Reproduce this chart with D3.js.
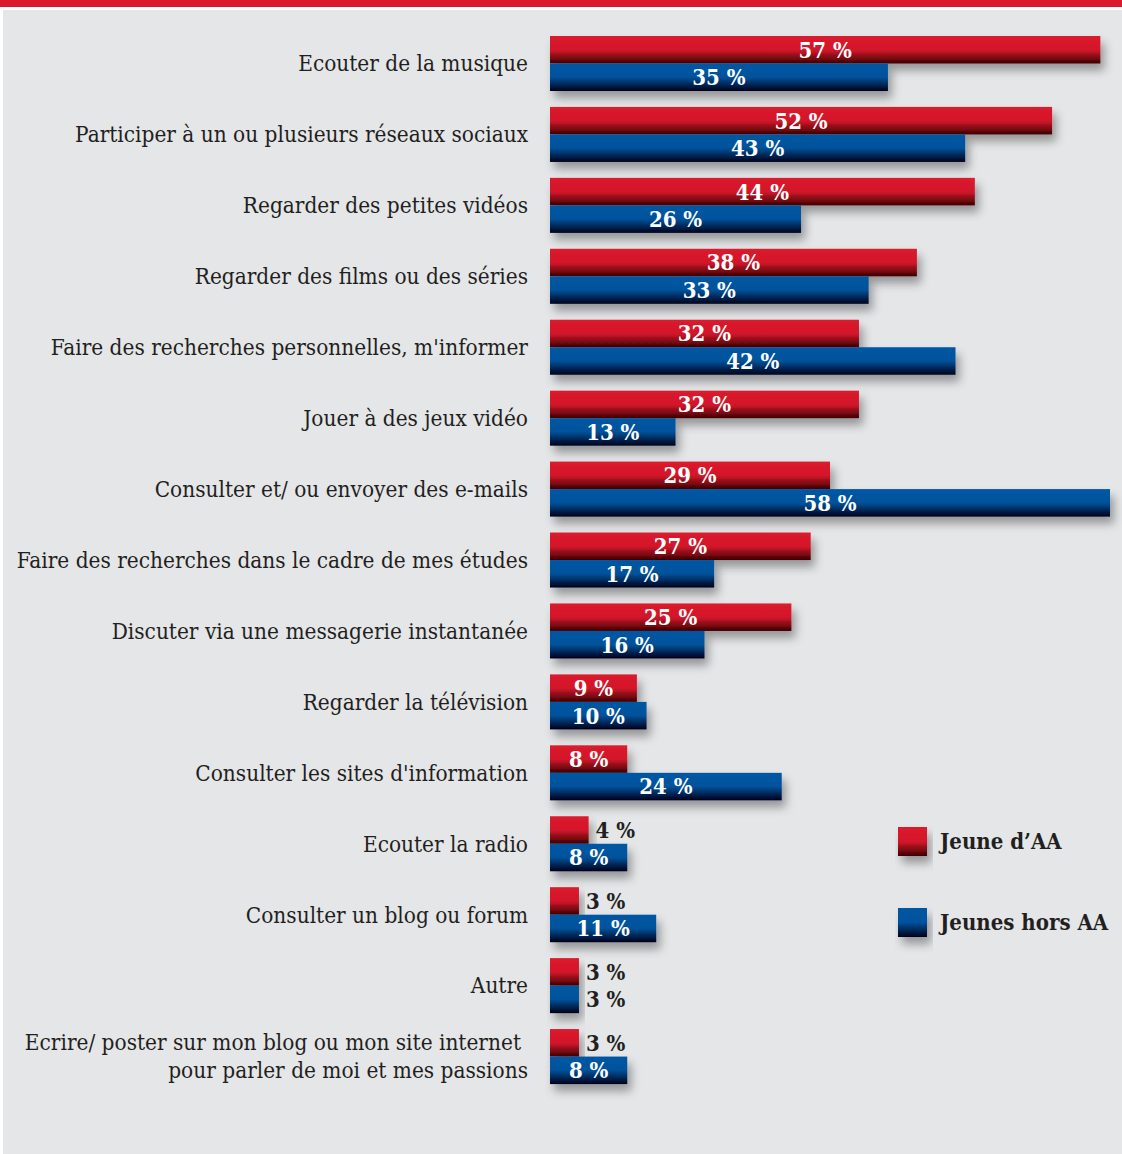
<!DOCTYPE html>
<html>
<head>
<meta charset="utf-8">
<script src="https://cdn.jsdelivr.net/npm/d3@7"></script>
<style>
  body { margin: 0; background: #fff; }
</style>
</head>
<body>
<div id="chart"></div>
<script>
// data
var categories = [
    "Ecouter de la musique",
    "Participer à un ou plusieurs réseaux sociaux",
    "Regarder des petites vidéos",
    "Regarder des films ou des séries",
    "Faire des recherches personnelles, m'informer",
    "Jouer à des jeux vidéo",
    "Consulter et/ ou envoyer des e-mails",
    "Faire des recherches dans le cadre de mes études",
    "Discuter via une messagerie instantanée",
    "Regarder la télévision",
    "Consulter les sites d'information",
    "Ecouter la radio",
    "Consulter un blog ou forum",
    "Autre",
    "Ecrire/ poster sur mon blog ou mon site internet|pour parler de moi et mes passions"
];
var jeunesAA = [57, 52, 44, 38, 32, 32, 29, 27, 25, 9, 8, 4, 3, 3, 3];
var jeunesHorsAA = [35, 43, 26, 33, 42, 13, 58, 17, 16, 10, 24, 8, 11, 3, 8];
var seriesNames = ["Jeune d’AA", "Jeunes hors AA"];

var svgWidth = 1122;
var svgHeight = 1154;

var svg = d3.select("#chart")
    .append("svg")
    .attr("width", svgWidth)
    .attr("height", svgHeight);

var defs = svg.append("defs");
var redGrad = defs.append("linearGradient").attr("id", "gRed")
    .attr("x1", 0).attr("y1", 0).attr("x2", 0).attr("y2", 1);
redGrad.append("stop").attr("offset", "0%").attr("stop-color", "#da1a2d");
redGrad.append("stop").attr("offset", "50%").attr("stop-color", "#d4182b");
redGrad.append("stop").attr("offset", "100%").attr("stop-color", "#3d0000");
var blueGrad = defs.append("linearGradient").attr("id", "gBlue")
    .attr("x1", 0).attr("y1", 0).attr("x2", 0).attr("y2", 1);
blueGrad.append("stop").attr("offset", "0%").attr("stop-color", "#0157a3");
blueGrad.append("stop").attr("offset", "50%").attr("stop-color", "#02529b");
blueGrad.append("stop").attr("offset", "100%").attr("stop-color", "#00001a");
var shadow = defs.append("filter").attr("id", "shadow")
    .attr("x", "-10%").attr("y", "-30%").attr("width", "130%").attr("height", "190%");
shadow.append("feDropShadow")
    .attr("dx", 4).attr("dy", 7).attr("stdDeviation", 5)
    .attr("flood-color", "#000").attr("flood-opacity", 0.35);

// background pieces
svg.append("rect").attr("x", 0).attr("y", 0).attr("width", svgWidth).attr("height", 7).attr("fill", "#da1a2d");
svg.append("rect").attr("x", 3).attr("y", 10).attr("width", svgWidth - 3).attr("height", svgHeight - 10).attr("fill", "#e5e6e8");

// scales
var xScale = d3.scaleLinear().domain([0, 58]).range([550, 1110]);
var yScale = d3.scaleBand().domain(categories).range([36, 1100]);
var subScale = d3.scaleBand().domain([0, 1]).range([0, 55]);
var fills = ["url(#gRed)", "url(#gBlue)"];
var fontFam = "'DejaVu Serif Condensed', 'DejaVu Serif', serif";

var rows = svg.append("g").selectAll("g.row")
    .data(categories)
    .enter().append("g")
    .attr("class", "row")
    .attr("transform", d => `translate(0, ${yScale(d)})`);

// category labels
rows.each(function(cat) {
    var lines = cat.split("|");
    var t = d3.select(this).append("text")
        .attr("text-anchor", "end")
        .attr("font-family", fontFam)
        .attr("font-size", 22.4)
        .attr("fill", "#231f20");
    lines.forEach(function(line, i) {
        t.append("tspan")
            .attr("x", lines.length > 1 && i == 0 ? 521 : 528)
            .attr("y", 27.5 + (i - (lines.length - 1) / 2) * 28)
            .attr("dy", "0.35em")
            .text(line);
    });
});

// bars
rows.each(function(cat, i) {
    var vals = [jeunesAA[i], jeunesHorsAA[i]];
    var g = d3.select(this);
    vals.forEach(function(v, s) {
        g.append("rect")
            .attr("x", xScale(0))
            .attr("y", subScale(s))
            .attr("width", xScale(v) - xScale(0))
            .attr("height", subScale.bandwidth())
            .attr("fill", fills[s])
            .attr("filter", "url(#shadow)");
    });
    vals.forEach(function(v, s) {
        var inside = v >= 8;
        g.append("text")
            .attr("x", inside ? (xScale(0) + xScale(v)) / 2 : xScale(v) + 7)
            .attr("y", subScale(s) + subScale.bandwidth() / 2)
            .attr("dy", "0.36em")
            .attr("text-anchor", inside ? "middle" : "start")
            .attr("font-family", fontFam)
            .attr("font-weight", "bold")
            .attr("font-size", 22)
            .attr("fill", inside ? "#fff" : "#231f20")
            .text(v + " %");
    });
});

// legend
var legend = svg.append("g").selectAll("g.leg")
    .data(seriesNames)
    .enter().append("g")
    .attr("transform", (d, i) => `translate(898, ${827 + i * 81})`);
legend.append("rect")
    .attr("width", 29).attr("height", 29)
    .attr("fill", (d, i) => fills[i])
    .attr("filter", "url(#shadow)");
legend.append("text")
    .attr("x", 42).attr("y", 14.5).attr("dy", "0.36em")
    .attr("font-family", fontFam)
    .attr("font-weight", "bold")
    .attr("font-size", 22)
    .attr("fill", "#231f20")
    .text(d => d);
</script>
</body>
</html>
